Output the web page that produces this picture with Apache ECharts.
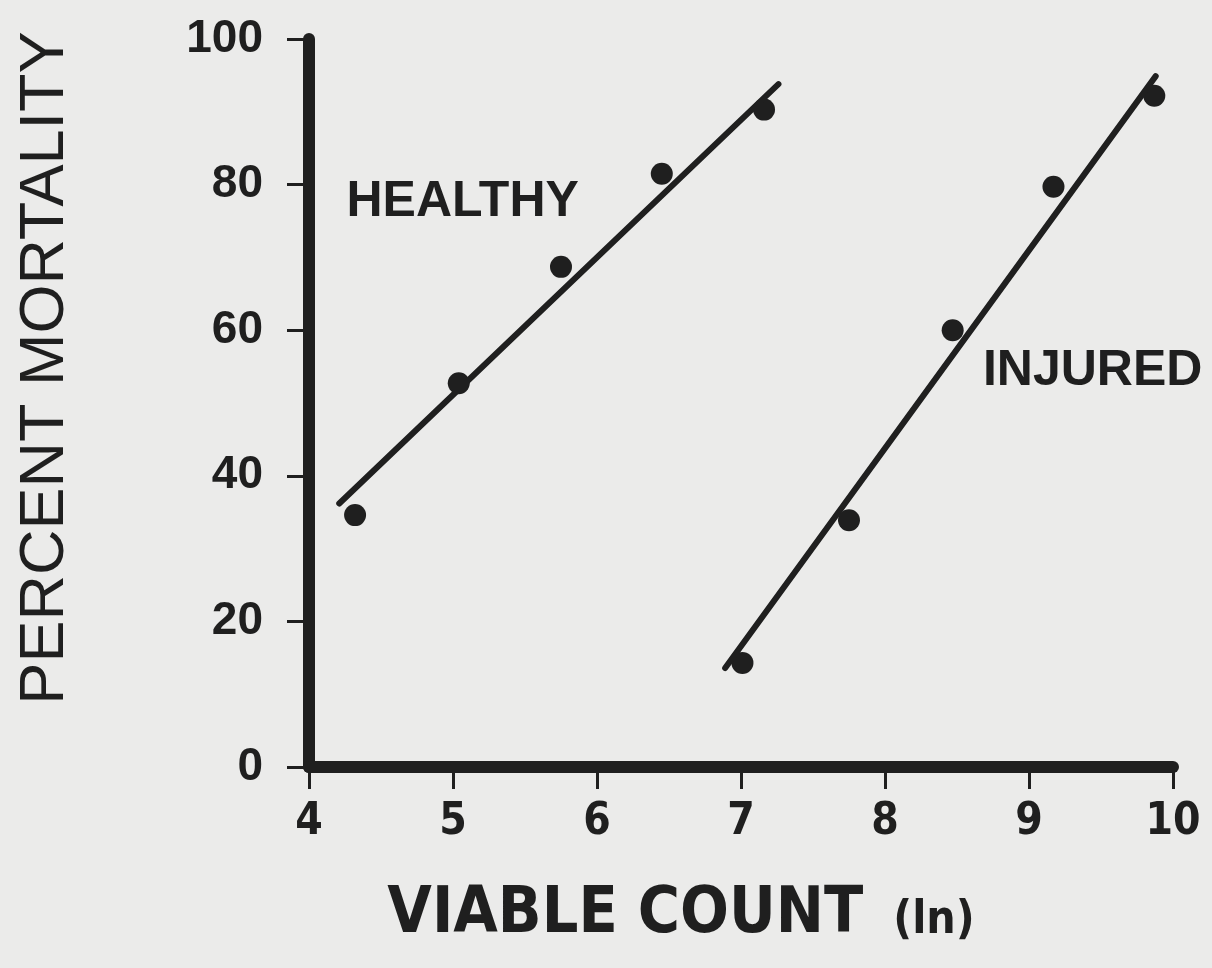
<!DOCTYPE html>
<html>
<head>
<meta charset="utf-8">
<script src="https://cdn.jsdelivr.net/npm/echarts@6/dist/echarts.min.js"></script>
<style>
    html, body {
        margin: 0;
        padding: 0;
        background: #ebebea;
    }

    #mortality {
        width: 1212px;
        height: 968px;
    }
</style>
</head>
<body>
<div id="mortality"></div>
<script>
    // healthy cells
    const healthyX = [4.32, 5.04, 5.75, 6.45, 7.16];
    const healthyY = [34.6, 52.7, 68.7, 81.5, 90.3];
    const healthyFitX = [4.21, 7.26];
    const healthyFitY = [36.2, 93.8];

    // injured cells
    const injuredX = [7.01, 7.75, 8.47, 9.17, 9.87];
    const injuredY = [14.3, 33.9, 60.0, 79.7, 92.2];
    const injuredFitX = [6.89, 9.88];
    const injuredFitY = [13.6, 94.9];

    // curve labels, placed in data units
    const curveNames = ['HEALTHY', 'INJURED'];
    const curveNameX = [4.26, 8.68];
    const curveNameY = [77.6, 54.4];

    const xTicks = [4, 5, 6, 7, 8, 9, 10];
    const yTicks = [0, 20, 40, 60, 80, 100];

    const ink = '#1f1f1f';
    const narrow = "'Liberation Sans Narrow', 'DejaVu Sans Condensed', sans-serif";
    const plain = "'Liberation Sans', Arial, sans-serif";
    const pairs = (xs, ys) => xs.map((x, i) => [x, ys[i]]);

    const chart = echarts.init(document.getElementById('mortality'));
    chart.setOption({
        backgroundColor: '#ebebea',
        animation: false,
        grid: {
            left: 309,
            right: 39,
            top: 39,
            bottom: 201,
            outerBoundsMode: 'none',
            containLabel: false
        },
        xAxis: {
            type: 'value',
            min: xTicks[0],
            max: xTicks[xTicks.length - 1],
            interval: 1,
            splitLine: {show: false},
            axisLine: {lineStyle: {color: ink, width: 12}},
            axisTick: {length: 22, lineStyle: {color: ink, width: 3}},
            axisLabel: {
                margin: 34,
                color: ink,
                fontSize: 44,
                fontWeight: 'bold',
                fontFamily: narrow
            },
            name: 'VIABLE COUNT {s|(ln)}',
            nameLocation: 'middle',
            nameGap: 116,
            nameTextStyle: {
                color: ink,
                fontSize: 64,
                fontWeight: 'bold',
                fontFamily: narrow,
                padding: [0, 120, 0, 0],
                rich: {
                    s: {
                        color: ink,
                        fontSize: 46,
                        fontWeight: 'bold',
                        fontFamily: narrow,
                        padding: [12, 0, 0, 10]
                    }
                }
            }
        },
        yAxis: {
            type: 'value',
            min: yTicks[0],
            max: yTicks[yTicks.length - 1],
            interval: 20,
            splitLine: {show: false},
            axisLine: {lineStyle: {color: ink, width: 12}},
            axisTick: {length: 22, lineStyle: {color: ink, width: 3}},
            axisLabel: {
                margin: 46,
                color: ink,
                fontSize: 46,
                fontWeight: 'bold',
                fontFamily: plain
            },
            name: 'PERCENT MORTALITY',
            nameLocation: 'middle',
            nameGap: 232,
            nameRotate: 90,
            nameTextStyle: {
                color: ink,
                fontSize: 63,
                fontFamily: plain,
                padding: [0, 0, 0, 70]
            }
        },
        series: [
            {
                name: 'Healthy fit',
                type: 'line',
                data: pairs(healthyFitX, healthyFitY),
                symbol: 'none',
                lineStyle: {color: ink, width: 6, cap: 'round'}
            },
            {
                name: 'Injured fit',
                type: 'line',
                data: pairs(injuredFitX, injuredFitY),
                symbol: 'none',
                lineStyle: {color: ink, width: 6, cap: 'round'}
            },
            {
                name: 'Healthy',
                type: 'scatter',
                data: pairs(healthyX, healthyY),
                symbolSize: 22,
                itemStyle: {color: ink, opacity: 1}
            },
            {
                name: 'Injured',
                type: 'scatter',
                data: pairs(injuredX, injuredY),
                symbolSize: 22,
                itemStyle: {color: ink, opacity: 1}
            },
            {
                name: 'Labels',
                type: 'scatter',
                symbolSize: 0,
                itemStyle: {opacity: 1},
                data: curveNames.map((n, i) => ({name: n, value: [curveNameX[i], curveNameY[i]]})),
                label: {
                    show: true,
                    position: 'right',
                    distance: 0,
                    formatter: '{b}',
                    color: ink,
                    fontSize: 50,
                    fontWeight: 'bold',
                    fontFamily: plain
                }
            }
        ]
    });
</script>
</body>
</html>
